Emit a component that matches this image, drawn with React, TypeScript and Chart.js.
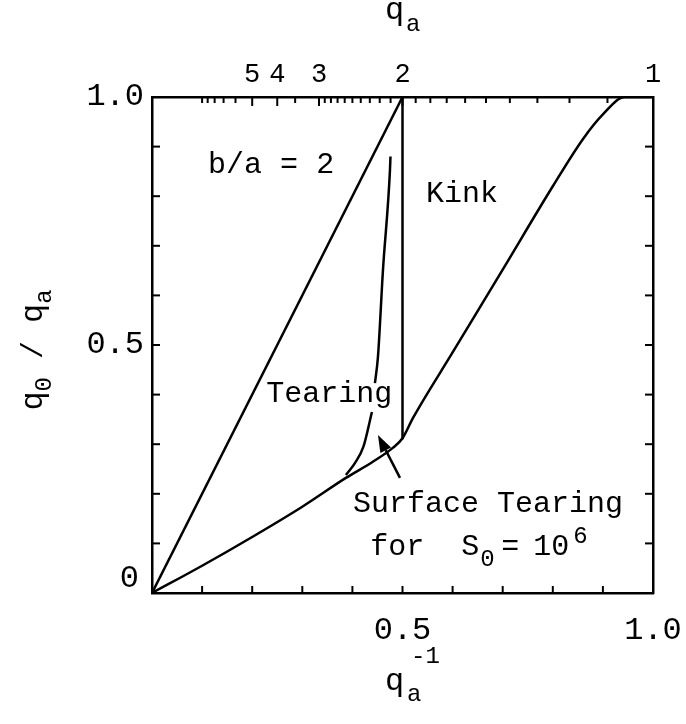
import React, { useEffect, useRef } from "react";
import { Chart, registerables } from "chart.js";

Chart.register(...registerables);

// ---------------- data ----------------
// x = 1/q_a , y = q_0/q_a
const diagonalX = [0, 0.5];
const diagonalY = [0, 1.0];

const kinkX = [0.5, 0.5];
const kinkY = [1.0, 0.31];

const surfaceX = [0, 0.1, 0.2, 0.3, 0.387, 0.44, 0.48, 0.5, 0.521, 0.6, 0.7, 0.8, 0.86, 0.9, 0.944, 1.0];
const surfaceY = [0, 0.055, 0.113, 0.174, 0.232, 0.264, 0.292, 0.312, 0.353, 0.485, 0.652, 0.82, 0.915, 0.965, 1.0, 1.0];

const tearingLowX = [0.387, 0.405, 0.422, 0.439];
const tearingLowY = [0.238, 0.262, 0.295, 0.365];
const tearingHighX = [0.445, 0.451, 0.461, 0.475, 0.476];
const tearingHighY = [0.423, 0.476, 0.651, 0.853, 0.88];

// axis ticks
const xMinorTicks = [0.1, 0.2, 0.3, 0.4, 0.5, 0.6, 0.7, 0.8, 0.9];
const yMinorTicks = [0.1, 0.2, 0.3, 0.4, 0.5, 0.6, 0.7, 0.8, 0.9];
const xLabelTicks = [0.5, 1.0];
const yLabelTicks = [0.5, 1.0];
const topTicksQ = [10, 9, 8, 7, 6, 5, 4, 3.5, 3, 2.9, 2.8, 2.7, 2.6, 2.5, 2.4, 2.3, 2.2, 2.1, 2, 1.9, 1.8, 1.7, 1.6, 1.5, 1.4, 1.3, 1.2, 1.1, 1];
const topLabelsQ = [5, 4, 3, 2, 1];

// annotation text
const annoTexts = ["b/a = 2", "Kink", "Tearing", "Surface Tearing"];
const annoX = [0.112, 0.547, 0.228, 0.401];
const annoY = [0.847, 0.788, 0.385, 0.163];

// arrow (tail -> tip), data coords
const arrowX = [0.495, 0.451];
const arrowY = [0.232, 0.3185];

const FONT = "'Liberation Mono', 'DejaVu Sans Mono', monospace";
const BLACK = "#000";

const pts = (xs: number[], ys: number[]) => xs.map((x, i) => ({ x, y: ys[i] }));

const drawPlugin = {
  id: "customDraw",
  afterDraw(chart: any) {
    const { ctx, chartArea } = chart;
    const sx = chart.scales.x;
    const sy = chart.scales.y;
    const st = chart.scales.xTop;
    const px = (v: number) => sx.getPixelForValue(v);
    const py = (v: number) => sy.getPixelForValue(v);
    ctx.save();
    ctx.strokeStyle = BLACK;
    ctx.fillStyle = BLACK;
    ctx.lineWidth = 2;
    const seg = (x1: number, y1: number, x2: number, y2: number) => {
      ctx.beginPath();
      ctx.moveTo(x1, y1);
      ctx.lineTo(x2, y2);
      ctx.stroke();
    };
    // inward tick marks
    yMinorTicks.forEach((v) => {
      seg(chartArea.left, py(v), chartArea.left + 8, py(v));
      seg(chartArea.right, py(v), chartArea.right - 8, py(v));
    });
    xMinorTicks.forEach((v) => seg(px(v), chartArea.bottom, px(v), chartArea.bottom - 7));
    topTicksQ.forEach((q) => {
      const major = topLabelsQ.includes(q);
      const x = st.getPixelForValue(1 / q);
      seg(x, chartArea.top, x, chartArea.top + (major ? 9 : 6));
    });

    // arrow
    const tx = px(arrowX[0]), ty = py(arrowY[0]);
    const hx = px(arrowX[1]), hy = py(arrowY[1]);
    const ang = Math.atan2(hy - ty, hx - tx);
    const headLen = 17, headW = 6;
    const bx = hx - headLen * Math.cos(ang), by = hy - headLen * Math.sin(ang);
    ctx.lineWidth = 2.5;
    seg(tx, ty, bx, by);
    ctx.beginPath();
    ctx.moveTo(hx, hy);
    ctx.lineTo(bx + headW * Math.sin(ang), by - headW * Math.cos(ang));
    ctx.lineTo(bx - headW * Math.sin(ang), by + headW * Math.cos(ang));
    ctx.closePath();
    ctx.fill();

    // annotations
    ctx.textAlign = "left";
    ctx.textBaseline = "alphabetic";
    const txt = (s: string, x: number, y: number, size: number) => {
      ctx.font = `${size}px ${FONT}`;
      ctx.fillText(s, x, y);
    };
    annoTexts.forEach((s, i) => txt(s, px(annoX[i]), py(annoY[i]), 30));

    // "for  S0 = 10^6"
    const fx = px(0.4355), fy = py(0.0766);
    txt("for", fx, fy, 30);
    txt("S", fx + 91, fy, 30);
    txt("0", fx + 110, fy + 11, 24);
    txt("=", fx + 131, fy, 30);
    txt("10", fx + 163, fy, 30);
    txt("6", fx + 203, fy - 12, 24);

    // y-axis "0" label (corner)
    ctx.textAlign = "right";
    ctx.textBaseline = "middle";
    txt("0", chartArea.left - 13, py(0) - 14, 32);

    // axis titles
    ctx.textAlign = "left";
    ctx.textBaseline = "alphabetic";
    // top: q_a
    txt("q", 385, 19, 32);
    txt("a", 406, 31, 24);
    // bottom: q_a^-1
    txt("q", 385, 690, 32);
    txt("a", 407, 701, 24);
    txt("-1", 411, 663, 24);
    // left: q_0 / q_a (rotated)
    ctx.translate(42, 350);
    ctx.rotate(-Math.PI / 2);
    const pieces: [string, number, number][] = [["q", 32, 0], ["0", 24, 9], [" / ", 30, 0], ["q", 32, 0], ["a", 24, 9]];
    let total = 0;
    pieces.forEach(([s, size]) => {
      ctx.font = `${size}px ${FONT}`;
      total += ctx.measureText(s).width;
    });
    let cx = -total / 2;
    pieces.forEach(([s, size, dy]) => {
      ctx.font = `${size}px ${FONT}`;
      ctx.fillText(s, cx, dy);
      cx += ctx.measureText(s).width;
    });
    ctx.restore();
  },
};

export default function App() {
  const ref = useRef<HTMLCanvasElement | null>(null);
  useEffect(() => {
    if (!ref.current) return;
    const line = (data: { x: number; y: number }[], mono: boolean) => ({
      data,
      borderColor: BLACK,
      borderWidth: 2.5,
      pointRadius: 0,
      fill: false,
      tension: 0,
      cubicInterpolationMode: mono ? ("monotone" as const) : ("default" as const),
      xAxisID: "x",
      yAxisID: "y",
    });
    const tickFont = { family: FONT, size: 32 };
    const chart = new Chart(ref.current, {
      type: "line",
      data: {
        datasets: [
          line(pts(diagonalX, diagonalY), false),
          line(pts(kinkX, kinkY), false),
          line(pts(surfaceX, surfaceY), true),
          line(pts(tearingLowX, tearingLowY), true),
          line(pts(tearingHighX, tearingHighY), true),
        ],
      },
      options: {
        animation: false,
        responsive: false,
        maintainAspectRatio: false,
        layout: { padding: 0 },
        plugins: { legend: { display: false }, tooltip: { enabled: false } },
        scales: {
          x: {
            type: "linear",
            position: "bottom",
            min: 0,
            max: 1,
            afterBuildTicks: (s: any) => {
              s.ticks = xLabelTicks.map((v) => ({ value: v }));
            },
            ticks: {
              autoSkip: false,
              maxRotation: 0,
              padding: 18,
              color: BLACK,
              font: tickFont,
              callback: (v: any) => Number(v).toFixed(1),
            },
            grid: { display: false, drawTicks: false },
            border: { display: true, color: BLACK, width: 2.5 },
            afterFit: (s: any) => {
              s.height = 131;
              s.paddingLeft = 0;
              s.paddingRight = 0;
            },
          },
          xTop: {
            type: "linear",
            position: "top",
            min: 0,
            max: 1,
            afterBuildTicks: (s: any) => {
              s.ticks = topLabelsQ.map((q) => ({ value: 1 / q }));
            },
            ticks: {
              autoSkip: false,
              maxRotation: 0,
              padding: 6,
              color: BLACK,
              font: { family: FONT, size: 27 },
              callback: (v: any) => String(Math.round(1 / Number(v))),
            },
            grid: { display: false, drawTicks: false },
            border: { display: true, color: BLACK, width: 2.5 },
            afterFit: (s: any) => {
              s.height = 97;
              s.paddingLeft = 0;
              s.paddingRight = 0;
            },
          },
          y: {
            type: "linear",
            position: "left",
            min: 0,
            max: 1,
            afterBuildTicks: (s: any) => {
              s.ticks = yLabelTicks.map((v) => ({ value: v }));
            },
            ticks: {
              autoSkip: false,
              padding: 8,
              color: BLACK,
              font: tickFont,
              callback: (v: any) => Number(v).toFixed(1),
            },
            grid: { display: false, drawTicks: false },
            border: { display: true, color: BLACK, width: 2.5 },
            afterFit: (s: any) => {
              s.width = 152;
              s.paddingTop = 0;
              s.paddingBottom = 0;
            },
          },
          yRight: {
            type: "linear",
            position: "right",
            min: 0,
            max: 1,
            ticks: { display: false },
            grid: { display: false, drawTicks: false },
            border: { display: true, color: BLACK, width: 2.5 },
            afterFit: (s: any) => {
              s.width = 33;
              s.paddingTop = 0;
              s.paddingBottom = 0;
            },
          },
        },
      },
      plugins: [drawPlugin],
    });
    return () => chart.destroy();
  }, []);
  return (
    <div style={{ position: "fixed", left: 0, top: 0, width: 686, height: 724, background: "#fff" }}>
      <canvas ref={ref} width={686} height={724} style={{ width: 686, height: 724, display: "block" }} />
    </div>
  );
}
